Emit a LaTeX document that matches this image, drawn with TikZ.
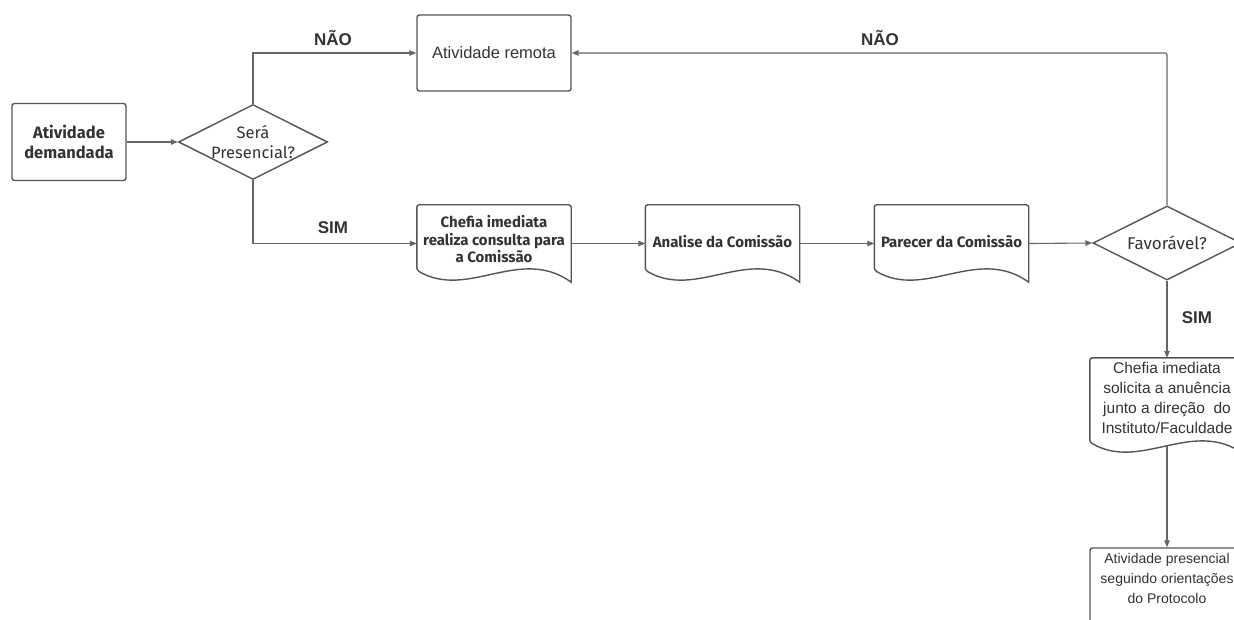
\documentclass[tikz,border=0pt]{standalone}
\usepackage{fontspec}
\setmainfont{Liberation Sans}
\newfontfamily\ubu{Fira Sans}
\usetikzlibrary{shapes.geometric,arrows.meta,calc}
\definecolor{ln}{HTML}{555555}
\definecolor{cn}{HTML}{666666}
\definecolor{tx}{HTML}{333333}
\newcommand\docshape[2]{%
  \draw[docl] (#1.south east) [rounded corners=2.5pt] -- (#1.north east) -- (#1.north west) -- ($(#1.south west)+(0,-#2)$) [sharp corners] .. controls ($(#1.south west)+(51,18)$) and ($(#1.south west)+(103,-37)$) .. (#1.south east) -- cycle;}
\begin{document}
\begin{tikzpicture}[x=1pt,y=-1pt,
  box/.style={draw=ln,line width=1.4pt,rounded corners=2.5pt,text=tx,align=center,inner sep=0pt},
  docl/.style={draw=ln,line width=1.4pt},
  doc/.style={inner sep=0pt,minimum width=154pt},
  dia/.style={draw=ln,line width=1.4pt,shape=diamond,inner sep=0pt},
  txt/.style={text=tx,align=center,inner sep=0pt},
  doctxt/.style={txt,font=\ubu\bfseries\fontsize{15}{17.5}\selectfont},
  arr/.style={draw=cn,line width=1.1pt,-{Triangle[length=7pt,width=5.5pt]}},
  lbl/.style={text=tx,font=\bfseries\fontsize{17}{20}\selectfont}]
\useasboundingbox (0,0) rectangle (1234,620);
\clip (0,0) rectangle (1234,620);
\fill[white] (0,0) rectangle (1234,620);

% nodes
\node[box,minimum width=114pt,minimum height=77pt,font=\ubu\bfseries\fontsize{16.5}{19.5}\selectfont] (a1) at (69,142) {Atividade\\demandada};
\node[dia,minimum width=149pt,minimum height=75pt] (d1) at (253,142) {};
\node[txt,font=\ubu\fontsize{16.5}{20}\selectfont] (d1t) at (d1.center) {Será\\Presencial?};
\node[box,minimum width=154pt,minimum height=76pt,font=\fontsize{16.5}{19}\selectfont] (rem) at (494,53) {Atividade remota};

\node[doc,minimum height=77pt] (c1) at (494,243.5) {};
\docshape{c1}{12}
\node[doctxt] (c1t) at (494,239.5) {Chefia imediata\\realiza consulta para\\a Comissão};

\node[doc,minimum height=77pt] (a2) at (722.5,243.5) {};
\docshape{a2}{12}
\node[doctxt] (a2t) at (722.5,242) {Analise da Comissão};

\node[doc,minimum height=77pt] (p1) at (951.5,243.5) {};
\docshape{p1}{12}
\node[doctxt] (p1t) at (951.5,242) {Parecer da Comissão};

\node[dia,minimum width=148pt,minimum height=74pt] (d2) at (1167,243) {};
\node[txt,font=\ubu\fontsize{17}{20}\selectfont] (d2t) at (d2.center) {Favorável?};

\node[doc,minimum height=96pt] (c2) at (1167,406) {};
\docshape{c2}{12}
\node[txt,font=\fontsize{15.5}{20}\selectfont] (c2t) at (1167,398) {Chefia imediata\\solicita a anuência\\junto a direção\ \ do\\Instituto/Faculdade};
\coordinate (c2b) at ($(c2.south)+(0,-8)$);

\node[box,minimum width=154pt,minimum height=78pt] (pres) at (1167,587) {};
\node[txt,font=\fontsize{14}{20}\selectfont] (prest) at (1167,578) {Atividade presencial\\seguindo orientações\\do Protocolo};

% connectors
\draw[arr] (a1.east) -- (d1.west);
\draw[arr] (d1.north) |- (rem.west);
\draw[arr] (d1.south) |- (c1.west);
\draw[arr] (c1.east) -- (a2.west);
\draw[arr] (a2.east) -- (p1.west);
\draw[arr] (p1.east) -- (d2.west);
\draw[arr,rounded corners=2pt] (d2.north) |- (rem.east);
\draw[arr] (d2.south) -- (c2.north);
\draw[arr] (c2b) -- (pres.north);

% labels
\node[lbl] (n1) at (333,38) {NÃO};
\node[lbl] (s1) at (333,228) {SIM};
\node[lbl] (n2) at (880,38) {NÃO};
\node[lbl] (s2) at (1197,318) {SIM};
\end{tikzpicture}
\end{document}
